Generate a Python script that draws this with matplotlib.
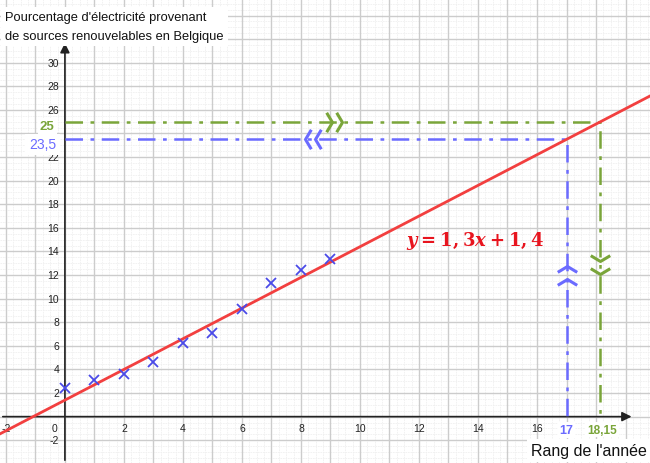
import matplotlib
matplotlib.use('Agg')
import matplotlib.pyplot as plt
import numpy as np

plt.rcParams['font.family'] = ['Liberation Sans', 'DejaVu Sans']
plt.rcParams['mathtext.fontset'] = 'custom'
plt.rcParams['mathtext.rm'] = 'DejaVu Serif:bold'
plt.rcParams['mathtext.it'] = 'DejaVu Serif:italic:bold'

# data: rank of year vs % renewable electricity
rang = [0, 1, 2, 3, 4, 5, 6, 7, 8, 9]
pourcentage = [2.4, 3.1, 3.6, 4.6, 6.2, 7.1, 9.1, 11.3, 12.4, 13.4]
pente, ordonnee = 1.3, 1.4
x_blue, y_blue = 17, 23.5
x_green, y_green = 18.15, 25
xticks = [-2, 2, 4, 6, 8, 10, 12, 14, 16]
yticks = [-2, 2, 4, 6, 8, 10, 12, 14, 16, 18, 20, 22, 26, 28, 30]

RED = '#f23f3f'
BLUE = '#6b6bff'
GREEN = '#7aa53a'
MARK = '#4a4ae8'

fig = plt.figure(figsize=(6.5, 4.64), dpi=100)
ax = fig.add_axes([0, 0, 1, 1])
xmin, xmax = -2.2, 19.83
ymin, ymax = -3.93, 35.4
ax.set_xlim(xmin, xmax)
ax.set_ylim(ymin, ymax)
for s in ax.spines.values():
    s.set_visible(False)
ax.set_xticks([])
ax.set_yticks([])

# grid
for gx in np.arange(-2, 20, 0.25):
    ax.axvline(gx, color='#f0f0f0', lw=0.6, ls=(0, (2, 1)), zorder=0)
for gy in np.arange(-4, 36, 0.5):
    ax.axhline(gy, color='#f0f0f0', lw=0.6, ls=(0, (2, 1)), zorder=0)
for gx in np.arange(-2, 20, 1):
    ax.axvline(gx, color='#cccccc', lw=1.0, zorder=0.5)
for gy in np.arange(-4, 36, 2):
    ax.axhline(gy, color='#cccccc', lw=1.0, zorder=0.5)

# axes with arrows
ax.annotate('', xy=(19.3, 0), xytext=(xmin, 0),
            arrowprops=dict(arrowstyle='-|>', color='#222222', lw=1.2,
                            mutation_scale=14), zorder=2)
ax.annotate('', xy=(0, 31.9), xytext=(0, ymin),
            arrowprops=dict(arrowstyle='-|>', color='#222222', lw=1.2,
                            mutation_scale=14), zorder=2)

for t in xticks:
    ax.text(t, -0.55, str(t), ha='center', va='top', fontsize=7.5, color='#222222')
for t in yticks:
    ax.text(-0.2, t, str(t), ha='right', va='center', fontsize=7.5, color='#222222')
ax.text(-0.25, -0.55, '0', ha='right', va='top', fontsize=7.5, color='#222222')

# regression line
xs = np.array([xmin, xmax])
ax.plot(xs, pente * xs + ordonnee, color=RED, lw=2, zorder=3)

# data points
ax.plot(rang, pourcentage, 'x', color=MARK, ms=7, mew=1.3, zorder=4)

# reading lines
ax.plot([0, x_blue, x_blue], [y_blue, y_blue, 0], color=BLUE, lw=1.8,
        ls=(0, (7, 3, 1.5, 3)), zorder=2.5)
ax.plot([0, x_green, x_green], [y_green, y_green, 0], color=GREEN, lw=1.8,
        ls=(0, (7, 3, 1.5, 3)), zorder=2.5)

# chevrons
chev_r = [(-0.6, 1), (0, 0), (-0.6, -1)]
chev_l = [(0.6, 1), (0, 0), (0.6, -1)]
chev_u = [(-1, -0.6), (0, 0), (1, -0.6)]
chev_d = [(-1, 0.6), (0, 0), (1, 0.6)]
kw = dict(ls='none', ms=14, mfc='none', mew=2.2, zorder=4)
ax.plot([9.05, 9.4], [y_green, y_green], marker=chev_r, mec=GREEN, **kw)
ax.plot([8.15, 8.48], [y_blue, y_blue], marker=chev_l, mec=BLUE, **kw)
ax.plot([x_blue, x_blue], [12.8, 11.7], marker=chev_u, mec=BLUE, **kw)
ax.plot([x_green, x_green], [13.2, 12.1], marker=chev_d, mec=GREEN, **kw)

# labels
box = dict(boxstyle='square,pad=0.15', facecolor='white', edgecolor='none')
ax.text(-0.35, y_green - 0.35, '25', ha='right', va='center', fontsize=9.5,
        color=GREEN, fontweight='bold', bbox=box, zorder=5)
ax.text(-0.3, y_blue - 0.4, '23,5', ha='right', va='center', fontsize=10,
        color=BLUE, bbox=dict(boxstyle='square,pad=0.25', facecolor='white',
                              edgecolor='none'), zorder=5)
ax.text(x_blue, -0.6, '17', ha='center', va='top', fontsize=9,
        color=BLUE, fontweight='bold', bbox=box, zorder=5)
ax.text(x_green + 0.05, -0.6, '18,15', ha='center', va='top', fontsize=8.5,
        color=GREEN, fontweight='bold', bbox=box, zorder=5)
ax.text(xmax - 0.1, -2.85, "Rang de l'année", ha='right', va='center',
        fontsize=11.5, color='#111111',
        bbox=dict(boxstyle='square,pad=0.25', facecolor='white', edgecolor='none'),
        zorder=5)
fig.text(0.008, 0.975, "Pourcentage d'électricité provenant\nde sources renouvelables en Belgique",
         ha='left', va='top', fontsize=9.3, color='#111111', linespacing=1.85,
         bbox=dict(boxstyle='square,pad=0.3', facecolor='white', edgecolor='none'),
         zorder=6)

ax.text(13.9, 15.0, r'$y=1,3x+1,4$', ha='center', va='center',
        fontsize=13, color='#e8141e', zorder=5)

fig.savefig('out.png', dpi=100)
